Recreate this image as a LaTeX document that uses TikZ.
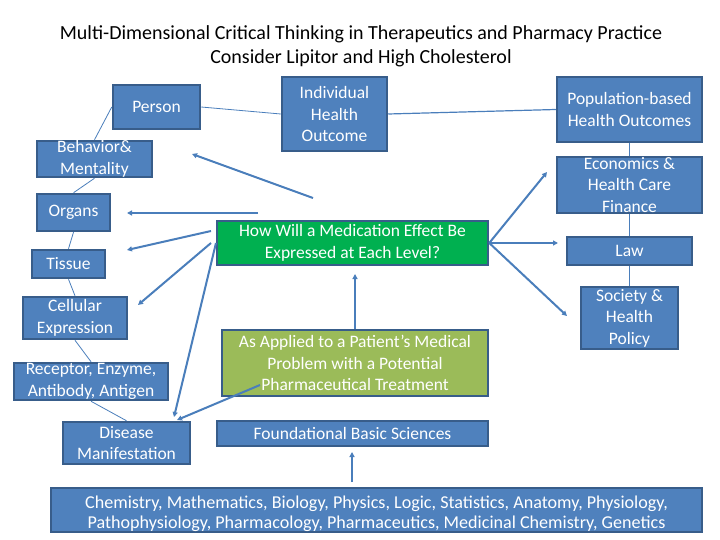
\documentclass[tikz,border=0pt]{standalone}
\usepackage{fontspec}
\setmainfont{Carlito}
\usetikzlibrary{arrows.meta}
\definecolor{boxblue}{HTML}{4F81BD}
\definecolor{boxedge}{HTML}{385D8A}
\definecolor{boxgreen}{HTML}{00B050}
\definecolor{boxolive}{HTML}{9BBB59}
\definecolor{linkblue}{HTML}{4A7EBB}
\newcommand\mkbox[7]{%
  \node[boxstyle,#6,minimum width={#4-#2},minimum height={#5-#3}] (#1) at ({(#2+#4)/2},{(#3+#5)/2}) {};
  \node[lbl] (#1-t) at (#1.center) {#7};}
\begin{document}
\begin{tikzpicture}[x=1pt,y=-1pt,
  boxstyle/.style={draw=boxedge, line width=2.5pt, inner sep=0pt, fill=boxblue},
  lbl/.style={text=white, font=\fontsize{17.5}{21.6}\selectfont, align=center, inner sep=0pt},
  thinlink/.style={draw=linkblue, line width=0.8pt},
  thicklink/.style={draw=linkblue, line width=2pt, -{Triangle[length=5pt,width=5pt]}},
]
\useasboundingbox (0,0) rectangle (720,540);

\node[align=center, font=\fontsize{20}{24}\selectfont] (title) at (361,46)
  {Multi-Dimensional Critical Thinking in Therapeutics and Pharmacy Practice\\Consider Lipitor and High Cholesterol};

\mkbox{person}{113}{85}{200}{129}{}{Person}
\mkbox{indiv}{282}{77}{387}{151}{}{Individual\\Health\\Outcome}
\mkbox{behav}{37}{141}{152}{177}{}{Behavior\&\\Mentality}
\mkbox{organs}{37}{194}{110}{231}{}{Organs}
\mkbox{tissue}{32}{250}{105}{278}{}{Tissue}
\mkbox{cell}{23}{297}{127}{339}{}{Cellular\\Expression}
\mkbox{recep}{14}{363}{168}{400}{}{Receptor, Enzyme,\\Antibody, Antigen}
\mkbox{disease}{63}{422}{190}{464}{}{Disease\\Manifestation}
\mkbox{howwill}{217}{221}{488}{265}{fill=boxgreen}{How Will a Medication Effect Be\\Expressed at Each Level?}
\mkbox{applied}{222}{330}{488}{396}{fill=boxolive}{As Applied to a Patient's Medical\\Problem with a Potential\\Pharmaceutical Treatment}
\mkbox{found}{217}{421}{488}{446}{}{Foundational Basic Sciences}
\node[boxstyle, minimum width=651, minimum height=44] (sciences) at (376.5,510) {};
\node[lbl, font=\fontsize{18.1}{20.5}\selectfont] (sciences-t) at ([yshift=-4]sciences.center)
  {Chemistry, Mathematics, Biology, Physics, Logic, Statistics, Anatomy, Physiology,\\Pathophysiology, Pharmacology, Pharmaceutics, Medicinal Chemistry, Genetics};
\mkbox{pop}{557}{77}{702}{142}{}{Population-based\\Health Outcomes}
\mkbox{econ}{557}{157}{702}{213}{}{Economics \&\\Health Care\\Finance}
\mkbox{law}{567}{237}{692}{265}{}{Law}
\mkbox{soc}{581}{287}{678}{349}{}{Society \&\\Health\\Policy}

% thin chain links
\draw[thinlink] (person.east) -- (indiv.west);
\draw[thinlink, line width=1.2pt] (indiv.east) -- (pop.west);
\draw[thinlink] (person.west) -- (behav.north);
\draw[thinlink] (behav.south) -- (organs.north);
\draw[thinlink] (organs.south) -- (tissue.north);
\draw[thinlink] (tissue.south) -- (cell.north);
\draw[thinlink] (cell.south) -- (recep.north);
\draw[thinlink] (recep.south) -- (disease.north);
\draw[thinlink] (pop.south) -- (econ.north);
\draw[thinlink] (econ.south) -- (law.north);
\draw[thinlink] (law.south) -- (soc.north);

% thick arrows
\coordinate (s1) at (313,198); \coordinate (e1) at (192,154);
\coordinate (s2) at (258,213); \coordinate (e2) at (127,213);
\coordinate (s3) at (211,231); \coordinate (e3) at (127,250);
\coordinate (s4) at (211,243); \coordinate (e4) at (138,305);
\coordinate (s5) at (216,243); \coordinate (e5) at (174,417);
\coordinate (s6) at (260,385); \coordinate (e6) at (177,420);
\coordinate (e7) at (355,274);
\coordinate (s8) at (352,482); \coordinate (e8) at (352,452);
\coordinate (e9) at (547,172);
\coordinate (e10) at (558,243);
\coordinate (e11) at (567,316);
\draw[thicklink] (s1) -- (e1);
\draw[thicklink] (s2) -- (e2);
\draw[thicklink] (s3) -- (e3);
\draw[thicklink] (s4) -- (e4);
\draw[thicklink] (s5) -- (e5);
\draw[thicklink] (s6) -- (e6);
\draw[thicklink, line width=1.2pt] (applied.north -| e7) -- (e7);
\draw[thicklink, line width=1.2pt] (s8) -- (e8);
\draw[thicklink] (howwill.east) -- (e9);
\draw[thicklink] (howwill.east) -- (e10);
\draw[thicklink] (howwill.east) -- (e11);
\end{tikzpicture}
\end{document}
